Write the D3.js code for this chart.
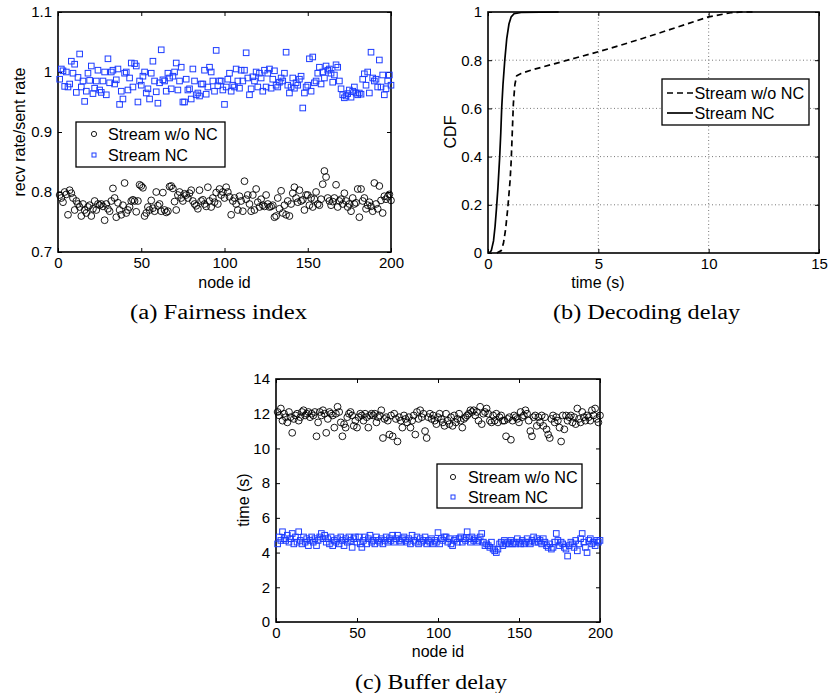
<!DOCTYPE html>
<html><head><meta charset="utf-8">
<script src="https://cdn.jsdelivr.net/npm/d3@7/dist/d3.min.js"></script>
<style>
html,body{margin:0;padding:0;background:#fff;}
svg{display:block;}
</style></head>
<body>
<svg id="chart" width="829" height="693" font-family='"Liberation Sans",Arial,Helvetica,sans-serif'></svg>
<script>
// ---------------- DATA ----------------
const fairnessNoNC = [
0.795,0.790,0.783,0.800,0.796,0.762,0.803,0.798,0.790,0.770,0.785,0.780,0.775,0.760,0.780,0.770,0.765,0.775,0.778,0.760,
0.772,0.785,0.770,0.780,0.778,0.780,0.776,0.753,0.780,0.772,0.768,0.785,0.806,0.790,0.758,0.782,0.770,0.762,0.778,0.815,
0.765,0.770,0.775,0.785,0.787,0.785,0.767,0.785,0.812,0.810,0.807,0.760,0.765,0.775,0.770,0.786,0.773,0.768,0.800,0.777,
0.780,0.768,0.799,0.770,0.766,0.768,0.809,0.810,0.806,0.784,0.770,0.795,0.800,0.790,0.785,0.797,0.795,0.790,0.798,0.803,
0.785,0.780,0.777,0.772,0.803,0.785,0.787,0.780,0.776,0.808,0.785,0.775,0.790,0.783,0.799,0.780,0.805,0.795,0.800,0.790,
0.808,0.800,0.792,0.762,0.785,0.790,0.780,0.770,0.793,0.785,0.768,0.818,0.788,0.795,0.780,0.768,0.795,0.770,0.805,0.783,
0.775,0.788,0.778,0.776,0.795,0.780,0.775,0.776,0.778,0.758,0.760,0.790,0.772,0.802,0.765,0.778,0.762,0.785,0.760,0.780,
0.798,0.808,0.790,0.783,0.803,0.785,0.787,0.770,0.795,0.795,0.778,0.790,0.775,0.788,0.800,0.780,0.778,0.788,0.813,0.835,
0.825,0.790,0.785,0.778,0.784,0.790,0.812,0.775,0.785,0.788,0.780,0.798,0.785,0.775,0.780,0.768,0.790,0.780,0.782,0.805,
0.758,0.805,0.785,0.790,0.772,0.778,0.783,0.776,0.768,0.815,0.780,0.772,0.810,0.786,0.765,0.793,0.788,0.792,0.796,0.786];
const fairnessNC = [
0.988,1.005,1.002,0.976,1.000,0.975,0.980,1.018,0.998,1.013,0.966,0.991,1.030,0.975,0.985,0.951,0.968,0.998,0.986,1.010,
0.964,0.973,0.985,1.003,0.970,0.966,0.985,1.000,0.962,1.022,0.982,1.000,1.003,0.980,0.987,1.005,0.946,0.968,0.955,0.998,
1.000,0.970,0.990,1.015,0.975,1.014,1.010,0.950,0.985,0.978,0.993,1.000,0.965,0.972,0.955,0.998,1.018,0.985,0.967,0.948,
0.982,1.037,0.987,0.985,0.968,0.998,0.990,0.972,0.993,1.000,1.015,0.970,0.985,1.008,0.950,0.950,0.988,0.970,0.972,0.955,
1.005,0.985,0.962,0.965,0.960,0.980,0.980,1.003,0.963,0.975,1.008,1.000,0.985,0.968,1.036,0.977,0.985,0.985,0.970,0.946,
0.975,0.988,0.998,0.968,0.978,0.975,1.005,0.985,0.973,1.003,0.985,1.003,1.032,0.990,0.962,0.972,0.992,0.985,1.000,0.975,
0.998,0.990,0.968,1.003,0.975,0.998,1.005,0.973,0.988,1.002,0.978,0.975,0.983,0.990,0.985,0.998,1.033,0.978,0.965,0.975,
0.990,0.973,0.982,0.978,0.988,0.993,0.940,0.965,0.975,0.978,1.022,0.968,1.025,0.982,0.985,0.998,1.008,0.980,1.000,0.990,
1.010,1.003,1.005,0.998,0.983,0.995,1.012,1.008,0.985,0.972,0.962,0.957,0.960,0.964,0.970,0.958,0.968,0.975,0.965,0.962,
0.965,0.963,0.988,0.997,0.978,1.000,0.965,1.033,0.990,0.985,0.988,0.975,1.020,0.975,0.995,0.962,0.972,0.985,0.995,0.978];

const bufferNoNC = [
12.1,11.9,12.3,11.6,12.0,11.8,11.5,12.1,11.8,10.9,11.7,11.9,12.0,11.6,11.8,12.1,12.2,11.9,12.0,12.1,
11.8,12.0,11.9,12.1,10.7,11.5,12.1,11.9,12.2,12.0,10.9,11.7,12.1,12.0,11.9,11.2,12.0,12.4,12.1,11.5,
10.7,11.4,11.2,11.8,12.0,12.1,11.9,11.3,11.6,11.2,11.8,12.0,11.9,11.6,12.0,11.8,11.2,11.9,12.0,11.9,
12.0,11.5,11.8,11.9,12.2,10.6,11.7,11.8,11.6,10.8,11.9,10.7,12.0,11.7,10.4,11.8,11.6,11.2,11.9,11.7,
11.5,11.8,11.2,11.6,11.9,10.8,12.1,11.7,12.2,11.8,12.0,11.0,10.6,11.8,12.0,11.7,11.9,11.6,11.4,11.8,
12.0,11.7,11.5,11.3,12.0,11.6,11.4,11.8,11.3,11.9,11.5,11.7,12.0,11.6,11.2,11.7,11.8,11.9,12.0,12.2,
12.1,12.2,11.9,12.1,11.6,12.4,11.4,12.0,12.1,12.3,12.0,11.6,11.5,11.9,11.6,12.0,11.5,11.8,11.9,11.6,
11.6,10.7,11.7,11.8,10.5,11.6,11.9,11.8,11.7,11.5,12.1,11.8,11.9,12.2,12.0,11.6,11.0,10.7,11.8,11.9,
11.3,11.8,11.5,11.9,11.3,11.8,11.1,10.8,10.6,11.7,11.9,11.5,11.8,11.6,11.2,10.4,11.9,11.1,11.9,11.6,
11.8,11.9,11.5,11.8,11.4,12.3,11.7,11.5,12.1,11.8,11.6,11.9,11.8,11.6,12.2,11.9,12.3,11.7,11.5,11.9];
const bufferNC = [
4.5,4.9,4.7,5.2,4.8,4.7,5.0,4.6,4.8,5.1,4.5,4.9,4.6,5.2,4.7,4.5,4.9,4.6,4.8,4.4,
4.7,4.9,4.6,4.8,4.4,4.7,4.9,5.1,4.8,5.0,4.6,4.8,4.5,4.9,4.4,4.7,4.6,4.8,4.5,4.9,
4.7,4.4,4.8,4.6,4.9,4.7,4.3,4.8,4.9,4.6,4.9,4.5,4.3,4.7,4.9,4.5,4.8,5.0,4.6,4.7,
4.5,4.9,4.7,4.6,4.8,4.5,4.7,4.9,4.6,4.8,4.7,5.0,4.6,4.8,5.0,4.7,4.6,4.8,4.9,4.7,
4.6,4.8,4.5,5.0,4.7,4.6,4.9,4.5,4.8,4.6,4.7,4.9,4.5,4.7,4.6,4.8,4.5,4.7,4.6,5.15,
4.5,4.8,4.7,4.9,4.9,4.6,4.8,4.5,4.4,4.7,4.8,4.6,4.8,4.9,4.6,4.8,4.7,5.2,4.8,4.6,
4.9,4.7,4.8,4.6,4.7,4.9,5.1,4.6,4.4,4.5,4.4,4.3,4.6,4.2,4.1,4.0,4.2,4.5,4.6,4.4,
4.7,4.5,4.6,4.5,4.7,4.5,4.6,4.5,4.8,4.6,4.5,4.7,4.5,4.6,4.8,4.6,4.5,4.7,4.9,4.6,
4.8,4.6,4.7,4.5,4.8,4.6,4.4,4.3,4.5,4.2,4.3,4.6,5.1,4.7,4.4,4.6,4.5,4.3,4.2,3.8,
4.4,4.6,4.5,4.3,4.7,4.1,4.5,4.8,5.1,4.6,4.3,4.0,4.7,4.8,4.5,4.6,4.4,4.7,4.6,4.7];

// CDF of decoding delay
const cdfNCTime = [0.05,0.15,0.25,0.32,0.38,0.45,0.53,0.58,0.62,0.68,0.76,0.85,0.95,1.05,1.18,1.5,3.2];
const cdfNCProb = [0,0.01,0.05,0.11,0.18,0.27,0.40,0.50,0.60,0.70,0.80,0.89,0.95,0.98,0.993,0.998,1.0];
const cdfNoNCTime = [0.4,0.6,0.7,0.8,0.9,1.0,1.05,1.1,1.15,1.22,1.3,1.5,2.0,3.0,4.0,5.0,6.0,7.0,8.0,9.0,10.0,11.0,11.5,12.0];
const cdfNoNCProb = [0,0.01,0.04,0.1,0.19,0.3,0.38,0.5,0.62,0.70,0.735,0.745,0.76,0.785,0.81,0.835,0.862,0.89,0.92,0.95,0.98,0.997,1.0,1.0];

const seriesNames = ["Stream w/o NC","Stream NC"];
const nodeTicks = [0,50,100,150,200];
const fairnessTicks = [0.7,0.8,0.9,1,1.1];
const timeTicks = [0,5,10,15];
const cdfTicks = [0,0.2,0.4,0.6,0.8,1];
const bufferTicks = [0,2,4,6,8,10,12,14];
const captions = ["(a) Fairness index","(b) Decoding delay","(c) Buffer delay"];

// ---------------- DRAWING ----------------
const svg = d3.select("#chart");
const BLUE = "#1d3cff";
const SANS = '"Liberation Sans",Arial,Helvetica,sans-serif';
const SERIF = '"Liberation Serif","Times New Roman",serif';
const TICKFS = 15, LABFS = 16, LEGFS = 16.2;

function frame(g, x, y, xt, yt, opts={}) {
  const [x0,x1] = x.range(), [y0,y1] = y.range(); // y0 bottom
  if (opts.grid) {
    const gg = g.append("g").attr("stroke","#777").attr("stroke-width",1).attr("stroke-dasharray","1,2.5");
    xt.slice(1,-1).forEach(v=>gg.append("line").attr("x1",x(v)).attr("x2",x(v)).attr("y1",y0).attr("y2",y1));
    yt.slice(1,-1).forEach(v=>gg.append("line").attr("y1",y(v)).attr("y2",y(v)).attr("x1",x0).attr("x2",x1));
  }
  const fmt = d=>String(d);
  const bx = g.append("g").attr("transform",`translate(0,${y0})`)
    .call(d3.axisBottom(x).tickValues(xt).tickFormat(fmt).tickSize(-4).tickSizeOuter(0).tickPadding(5));
  const tx = g.append("g").attr("transform",`translate(0,${y1})`)
    .call(d3.axisTop(x).tickValues(xt).tickFormat("").tickSize(-4).tickSizeOuter(0));
  const ly = g.append("g").attr("transform",`translate(${x0},0)`)
    .call(d3.axisLeft(y).tickValues(yt).tickFormat(fmt).tickSize(-4).tickSizeOuter(0).tickPadding(6));
  const ry = g.append("g").attr("transform",`translate(${x1},0)`)
    .call(d3.axisRight(y).tickValues(yt).tickFormat("").tickSize(-4).tickSizeOuter(0));
  [bx,tx,ly,ry].forEach(a=>{
    a.attr("font-family",SANS).attr("font-size",TICKFS);
    a.select(".domain").remove();
    a.selectAll(".tick line").attr("stroke","#000").attr("stroke-width",1);
    a.selectAll("text").attr("fill","#000");
  });
  g.append("rect").attr("x",x0).attr("y",y1).attr("width",x1-x0).attr("height",y0-y1)
    .attr("fill","none").attr("stroke","#000").attr("stroke-width",1.6);
}

function circles(g, x, y, data, r) {
  g.append("g").selectAll("circle").data(data).join("circle")
    .attr("cx",(d,i)=>x(i+1)).attr("cy",d=>y(d)).attr("r",r)
    .attr("fill","none").attr("stroke","#000").attr("stroke-width",0.9);
}
function squares(g, x, y, data, s) {
  g.append("g").selectAll("rect").data(data).join("rect")
    .attr("x",(d,i)=>x(i+1)-s/2).attr("y",d=>y(d)-s/2).attr("width",s).attr("height",s)
    .attr("fill","none").attr("stroke",BLUE).attr("stroke-width",1);
}
function label(g, x, y, text, size) {
  return g.append("text").attr("x",x).attr("y",y).attr("dy","0.36em")
    .attr("font-family",SANS).attr("font-size",size).attr("fill","#000").text(text);
}
function markerLegend(g, bx, by, bw, bh, mx, tx, ys) {
  g.append("rect").attr("x",bx).attr("y",by).attr("width",bw).attr("height",bh)
    .attr("fill","#fff").attr("stroke","#000").attr("stroke-width",1.3);
  g.append("circle").attr("cx",mx).attr("cy",ys[0]).attr("r",2.6).attr("fill","none").attr("stroke","#000").attr("stroke-width",0.9);
  g.append("rect").attr("x",mx-2).attr("y",ys[1]-2).attr("width",4).attr("height",4).attr("fill","none").attr("stroke",BLUE).attr("stroke-width",1);
  seriesNames.forEach((n,i)=>label(g,tx,ys[i],n,LEGFS));
}
function ylabel(g, text, cx, cy) {
  g.append("text").attr("transform",`translate(${cx},${cy}) rotate(-90)`).attr("text-anchor","middle")
    .attr("dy","0.36em").attr("font-family",SANS).attr("font-size",LABFS).attr("fill","#000").text(text);
}
function xlabel(g, text, cx, cy) {
  label(g,cx,cy,text,LABFS).attr("text-anchor","middle");
}
function caption(text, cx, cy, w) {
  svg.append("text").attr("x",cx).attr("y",cy).attr("text-anchor","middle").attr("dy","0.35em")
    .attr("font-family",SERIF).attr("font-size",20).attr("fill","#000")
    .attr("textLength",w).attr("lengthAdjust","spacingAndGlyphs").text(text);
}

// Panel (a)
{
  const g = svg.append("g");
  const x = d3.scaleLinear().domain([0,200]).range([58,391]);
  const y = d3.scaleLinear().domain([0.7,1.1]).range([252,12]);
  frame(g,x,y,nodeTicks,fairnessTicks);
  circles(g,x,y,fairnessNoNC,3.4);
  squares(g,x,y,fairnessNC,5.6);
  markerLegend(g,76,122,149,45,94,108,[134,155]);
  ylabel(g,"recv rate/sent rate",19,132);
  xlabel(g,"node id",224.5,282);
  caption(captions[0],218.5,312,177);
}
// Panel (b)
{
  const g = svg.append("g");
  const x = d3.scaleLinear().domain([0,15]).range([488,819]);
  const y = d3.scaleLinear().domain([0,1]).range([253,12]);
  frame(g,x,y,timeTicks,cdfTicks,{grid:true});
  const line = d3.line().x(d=>x(d[0])).y(d=>y(d[1]));
  g.append("path").datum(d3.zip(cdfNoNCTime,cdfNoNCProb)).attr("d",line)
    .attr("fill","none").attr("stroke","#000").attr("stroke-width",1.7).attr("stroke-dasharray","6,4");
  g.append("path").datum(d3.zip(cdfNCTime,cdfNCProb)).attr("d",line)
    .attr("fill","none").attr("stroke","#000").attr("stroke-width",1.7);
  g.append("rect").attr("x",662).attr("y",79).attr("width",147).attr("height",46)
    .attr("fill","#fff").attr("stroke","#000").attr("stroke-width",1.3);
  g.append("line").attr("x1",667).attr("x2",693).attr("y1",93).attr("y2",93)
    .attr("stroke","#000").attr("stroke-width",1.7).attr("stroke-dasharray","6,4");
  g.append("line").attr("x1",667).attr("x2",693).attr("y1",113).attr("y2",113)
    .attr("stroke","#000").attr("stroke-width",1.7);
  seriesNames.forEach((n,i)=>label(g,694.5,[93,113][i],n,LEGFS));
  ylabel(g,"CDF",450,132);
  xlabel(g,"time (s)",598,282);
  caption(captions[1],646.5,312,187);
}
// Panel (c)
{
  const g = svg.append("g");
  const x = d3.scaleLinear().domain([0,200]).range([276,600]);
  const y = d3.scaleLinear().domain([0,14]).range([622,379]);
  frame(g,x,y,nodeTicks,bufferTicks);
  circles(g,x,y,bufferNoNC,3.4);
  squares(g,x,y,bufferNC,5.6);
  markerLegend(g,437,464,145,44,453,468,[477,497]);
  ylabel(g,"time (s)",243,500);
  xlabel(g,"node id",438,651);
  caption(captions[2],431,682,152);
}
</script>
</body></html>
